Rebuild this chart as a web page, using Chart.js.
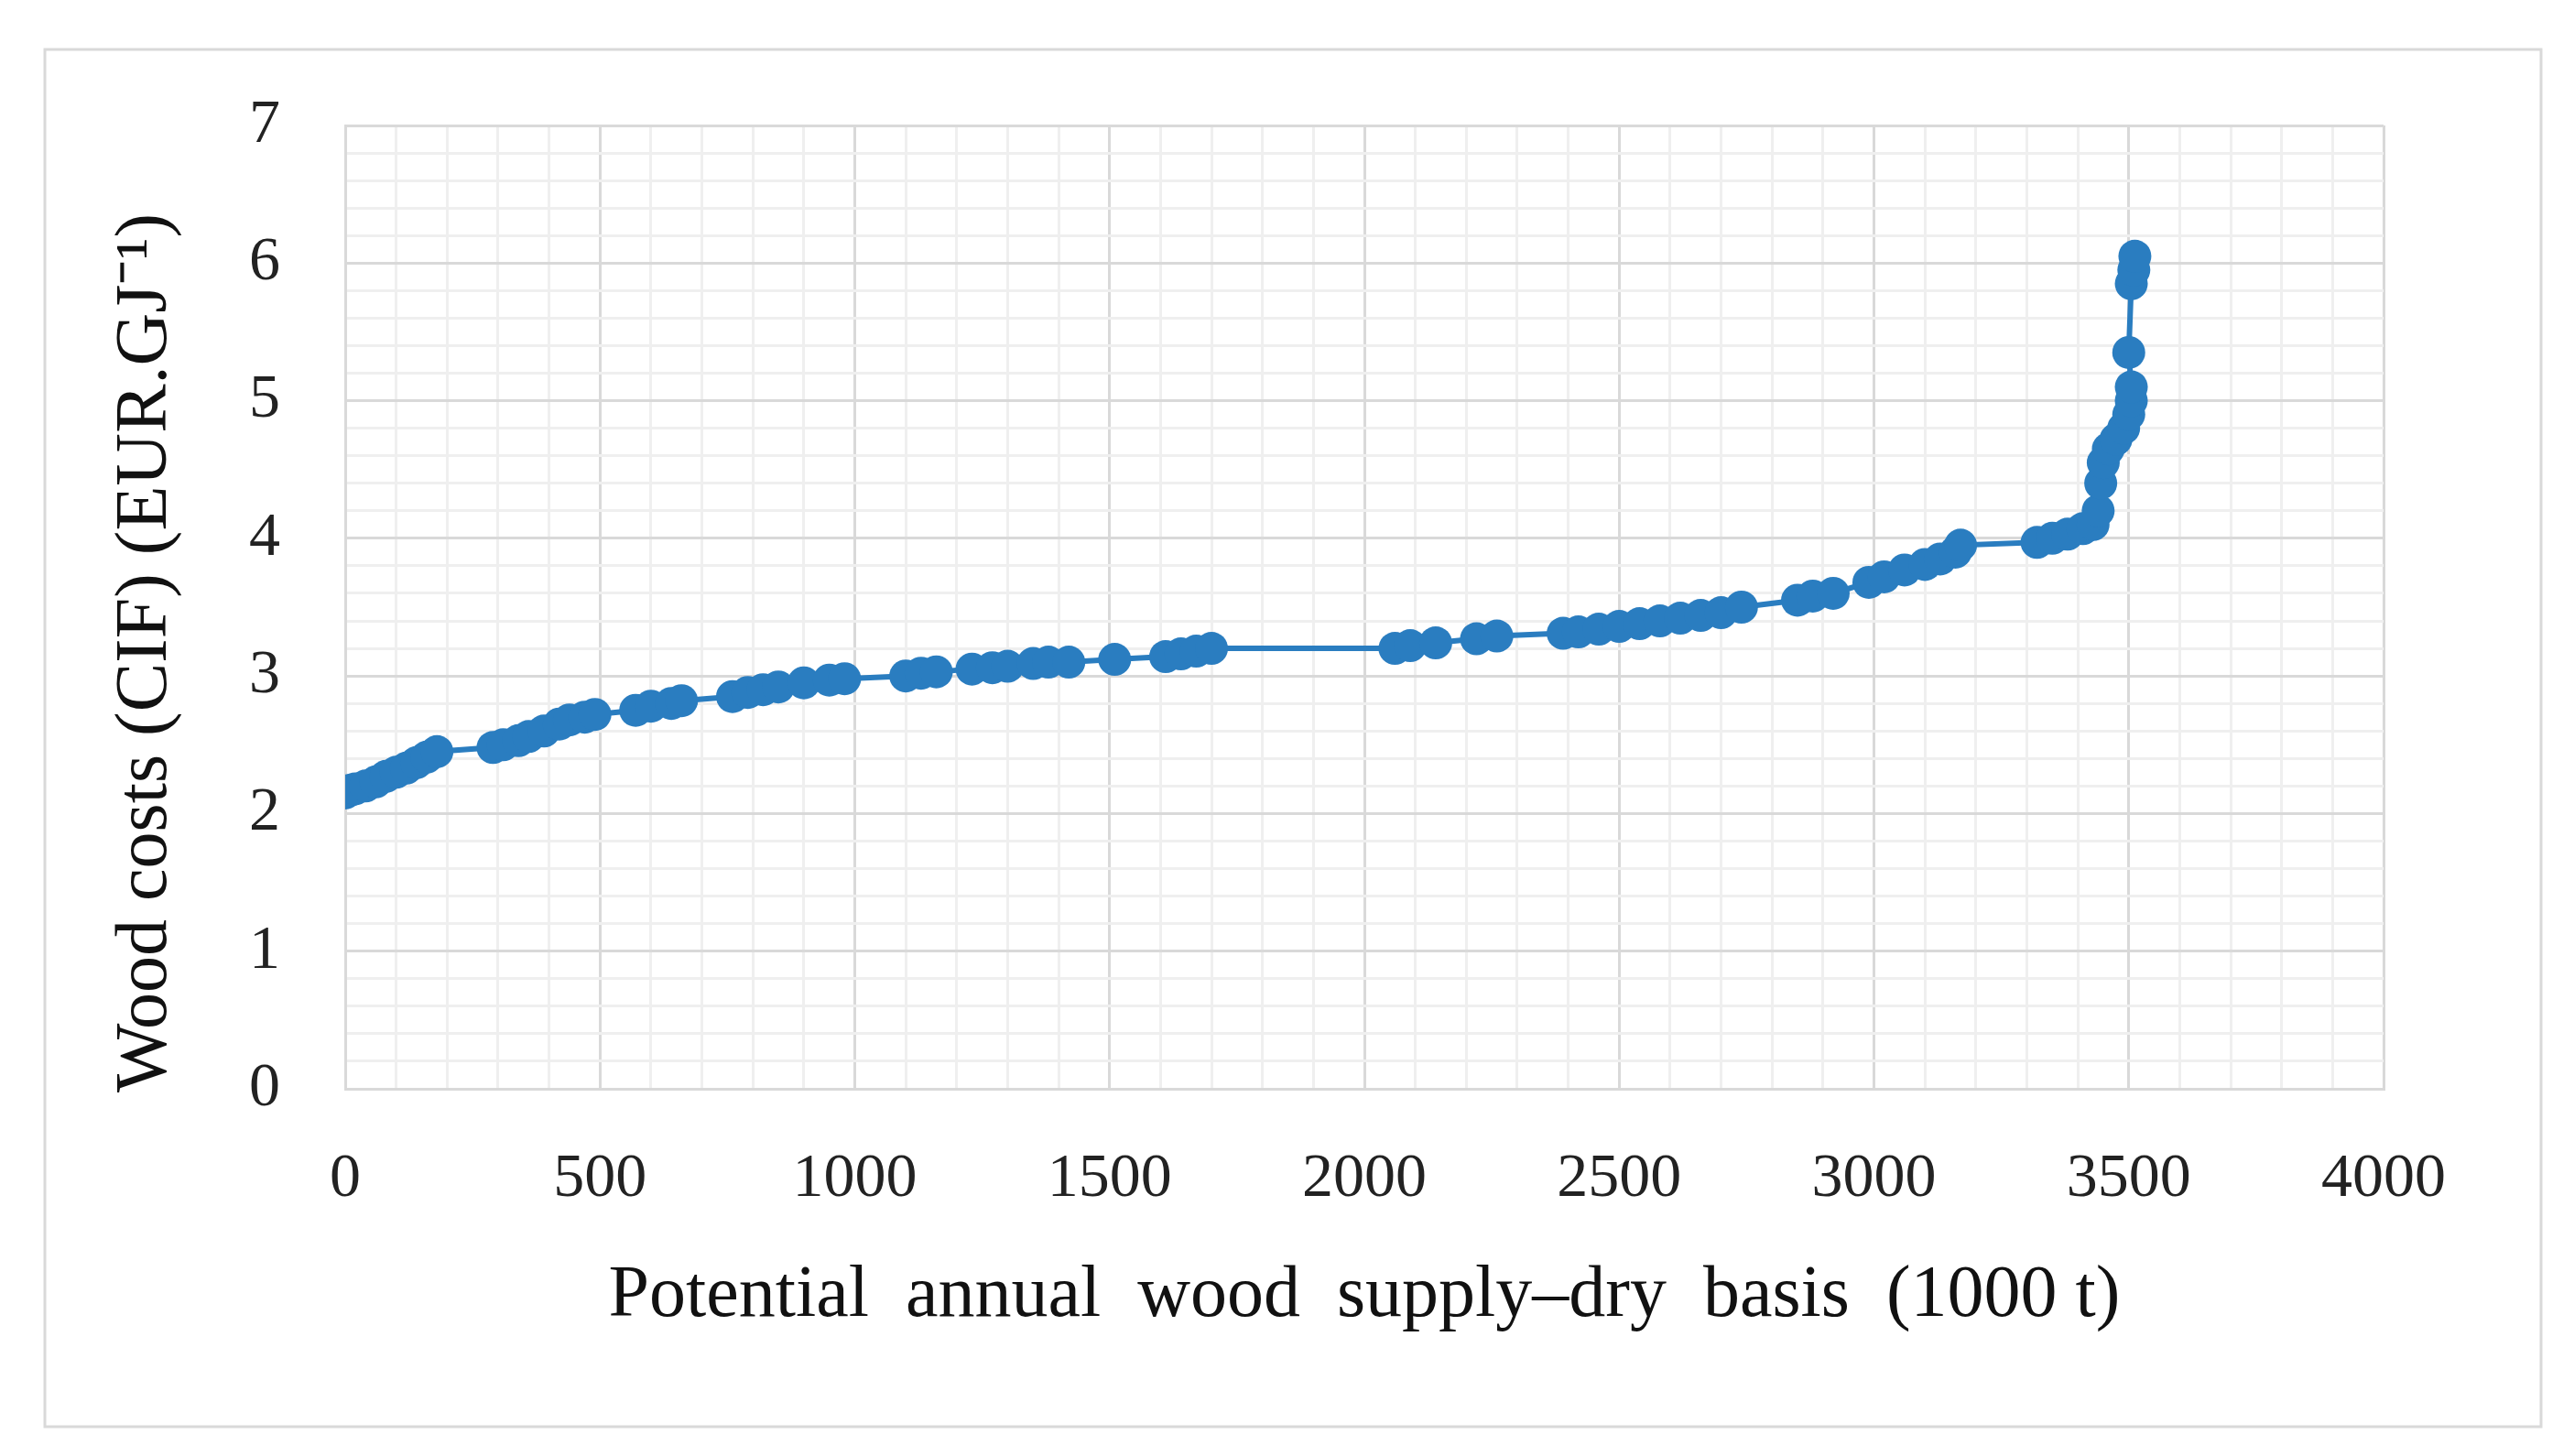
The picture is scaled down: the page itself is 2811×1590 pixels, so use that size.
<!DOCTYPE html>
<html><head><meta charset="utf-8">
<script src="https://cdn.jsdelivr.net/npm/chart.js@4"></script>
<style>html,body{margin:0;padding:0;background:#fff;}#wrap{width:2811px;height:1590px;position:relative;}</style>
</head><body><div id="wrap"><canvas id="c"></canvas></div>
<script>
const supplyX = [0,10,20,40,60,80,100,120,140,160,180,
 290,310,340,360,390,420,440,470,490,
 570,600,640,660,
 760,790,820,850,900,950,980,
 1100,1130,1160,1230,1270,1300,1350,1380,1420,
 1510,
 1610,1640,1670,1700,
 2060,2090,2140,2220,2260,
 2390,2420,2460,2500,2540,2580,2620,2660,2700,2740,
 2850,2880,2920,
 2990,3020,3060,3100,3130,3160,3170,
 3320,3350,3380,3410,3430,3440,3445,3450,3460,3475,3490,3500,3505,3505,3500,3505,3510,3512];
const costY = [2.15,2.17,2.18,2.2,2.23,2.27,2.3,2.33,2.37,2.41,2.45,
 2.48,2.5,2.53,2.56,2.6,2.65,2.68,2.7,2.72,
 2.75,2.78,2.8,2.82,
 2.85,2.88,2.9,2.92,2.95,2.97,2.98,
 3.0,3.02,3.03,3.05,3.06,3.07,3.09,3.1,3.1,
 3.12,
 3.14,3.16,3.18,3.2,
 3.2,3.22,3.24,3.27,3.29,
 3.31,3.32,3.34,3.36,3.38,3.4,3.42,3.44,3.46,3.5,
 3.55,3.58,3.6,
 3.68,3.72,3.77,3.81,3.85,3.9,3.95,
 3.97,4.0,4.03,4.07,4.1,4.2,4.4,4.55,4.65,4.72,4.8,4.9,5.0,5.1,5.35,5.85,5.95,6.05];
const xTitle = 'Potential  annual  wood  supply\u2013dry  basis  (1000 t)';
const yTitle = 'Wood costs (CIF) (EUR.GJ\u207B\u00B9)\u00A0\u00A0\u00A0\u00A0\u00A0';

const pts = supplyX.map((x,i)=>({x:x,y:costY[i]}));
const blue = '#2a7dc0';
const borderPlugin = {id:'outer', beforeDraw(ch){const c=ch.ctx;c.save();c.fillStyle='#fff';c.fillRect(0,0,ch.width,ch.height);c.strokeStyle='#d9d9d9';c.lineWidth=3;c.strokeRect(49,54,2726,1504);c.restore();}};
const font = {family:'"Liberation Serif", serif', size:68};
new Chart(document.getElementById('c'), {
  type:'scatter',
  data:{datasets:[{data:pts, showLine:true, borderColor:blue, backgroundColor:blue, borderWidth:6, pointRadius:18, pointHoverRadius:18, pointBorderWidth:0}]},
  options:{
    responsive:true, maintainAspectRatio:false, animation:false,
    layout:{padding:{top:137,right:208,left:0,bottom:0}},
    plugins:{legend:{display:false},tooltip:{enabled:false}},
    scales:{
      x:{type:'linear',min:0,max:4000,
        afterFit(s){s.height=401;},
        ticks:{stepSize:100,autoSkip:false,maxRotation:0,padding:58,color:'#222',font:font,callback:v=>v%500===0?String(v):''},
        grid:{drawTicks:false,lineWidth:3,color:c=>c.tick&&c.tick.value%500===0?'#d9d9d9':'#efefef'},
        border:{display:true,color:'#d9d9d9',width:3},
        title:{display:true,text:xTitle,color:'#111',font:{family:'"Liberation Serif", serif',size:80},padding:{top:0,bottom:126}}},
      y:{type:'linear',min:0,max:7,
        afterFit(s){s.width=377;},
        ticks:{stepSize:0.2,autoSkip:false,padding:71,color:'#222',font:font,callback:v=>Math.abs(v-Math.round(v))<1e-6?String(Math.round(v)):''},
        grid:{drawTicks:false,lineWidth:3,color:c=>c.tick&&Math.abs(c.tick.value-Math.round(c.tick.value))<1e-6?'#d9d9d9':'#efefef'},
        border:{display:true,color:'#d9d9d9',width:3},
        title:{display:true,text:yTitle,color:'#111',font:{family:'"Liberation Serif", serif',size:80},padding:{top:112,bottom:0}}}
    }
  },
  plugins:[borderPlugin]
});
</script></body></html>
